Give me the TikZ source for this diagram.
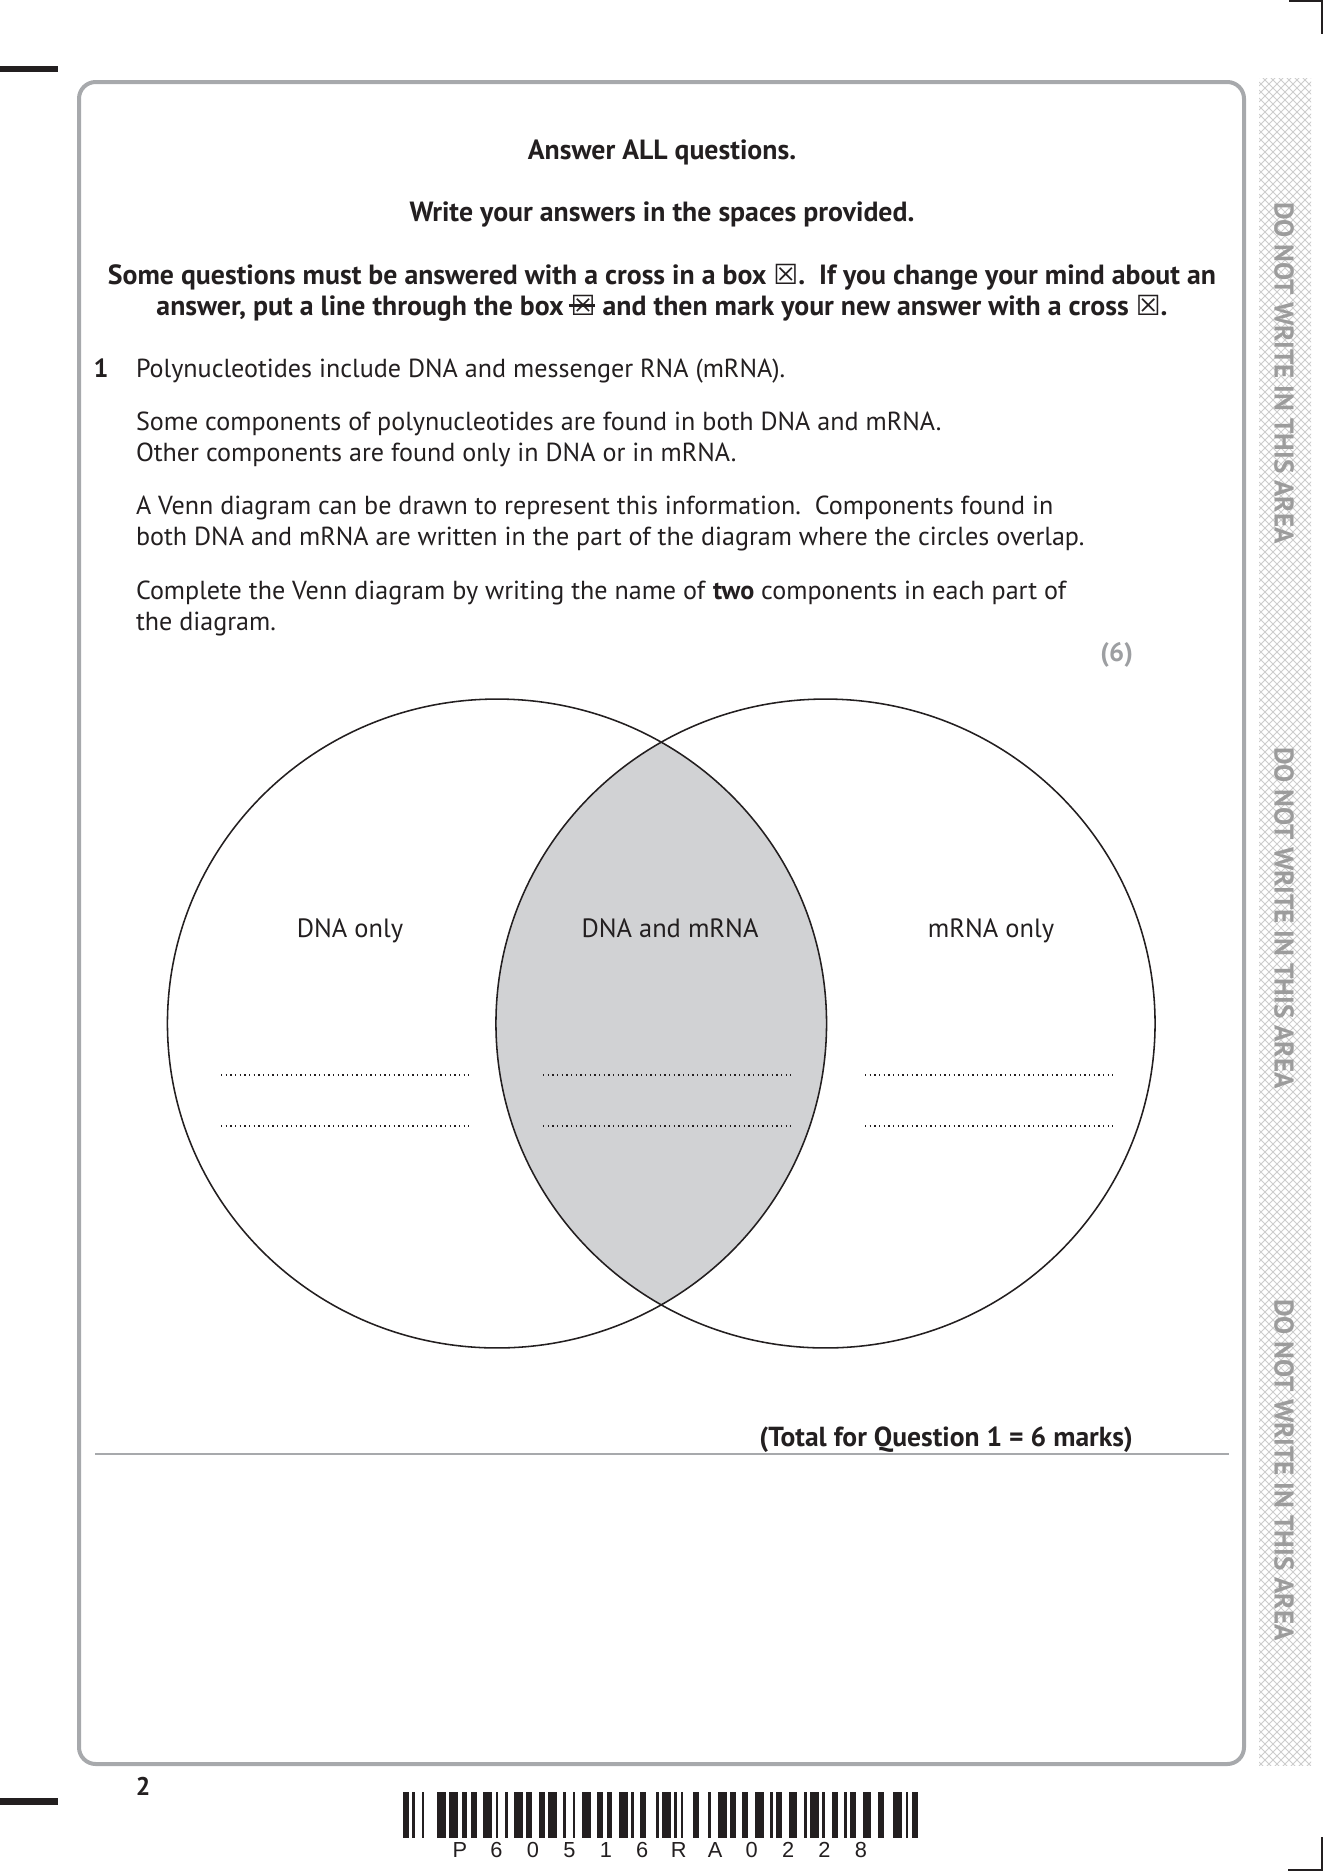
\documentclass[tikz,border=0pt]{standalone}
\usepackage{fontspec}
\setmainfont{PT Sans}
\newfontfamily\headfont{PT Sans}
\newfontfamily\sidefont{PT Sans}
\newfontfamily\symfont{DejaVu Sans}
\newfontfamily\codefont{Liberation Sans}
\definecolor{framegray}{HTML}{A7A9AC}
\definecolor{rulegray}{HTML}{A7A9AC}
\definecolor{hatchgray}{HTML}{CDCDCD}
\definecolor{sidegray}{HTML}{9C9C9C}
\definecolor{lensgray}{HTML}{D1D2D4}
\definecolor{inkblack}{HTML}{231F20}
\definecolor{markgray}{HTML}{9D9FA2}
\newcommand\crossbox{{\symfont\char"2612}}
\newcommand\strikebox{\makebox[0pt][l]{\kern-0.08em\rule[0.3em]{0.95em}{0.09em}}\crossbox}
\newcount\bcpos
\newcount\bcidx
\begin{document}
\begin{tikzpicture}[x=0.45pt,y=-0.45pt,
  every node/.style={inner sep=0pt, outer sep=0pt, text=inkblack},
  head/.style={anchor=base, font=\headfont\bfseries\fontsize{12.5}{14}\selectfont},
  body/.style={anchor=base west, font=\fontsize{11.74}{14}\selectfont},
  region/.style={anchor=base, font=\fontsize{11.9}{14}\selectfont},
  sidetext/.style={rotate=-90, font=\sidefont\bfseries\fontsize{12.2}{14}\selectfont, text=sidegray},
  answerline/.style={line width=0.6pt, dash pattern=on 0.6pt off 1.5pt, inkblack},
  vennline/.style={line width=0.7pt, inkblack},
  hatch/.style={line width=0.4pt, hatchgray}]
\useasboundingbox (0,0) rectangle (1323,1871);

% page furniture
\fill[inkblack] (0,66) rectangle (58,72);
\fill[inkblack] (0,1798) rectangle (58,1805);
\draw[inkblack, line width=0.6pt] (1289,1) -- (1322,1) -- (1322,34);
\draw[inkblack, line width=0.6pt] (1322,1837) -- (1322,1870) -- (1288,1870);

% margin strip
\begin{scope}
  \clip (1259,78) rectangle (1311,1765);
  \foreach \k in {0,...,222} {
    \draw[hatch] (1259,{18+\k*8}) -- ++(60,60);
    \draw[hatch] (1259,{78+\k*8}) -- ++(60,-60);
  }
\end{scope}
\node[sidetext] (side1) at (1284,373) {DO NOT WRITE IN THIS AREA};
\node[sidetext] (side2) at (1284,918) {DO NOT WRITE IN THIS AREA};
\node[sidetext] (side3) at (1284,1470) {DO NOT WRITE IN THIS AREA};

% page frame
\draw[framegray, line width=1.8pt, rounded corners=7.5pt] (79,82) rectangle (1244,1764);

% instructions
\node[head] (h1) at (662,159) {Answer ALL questions.};
\node[head] (h2) at (662,221) {Write your answers in the spaces provided.};
\node[head] (h3) at (662,284) {Some questions must be answered with a cross in a box \crossbox.\ \ If you change your mind about an};
\node[head] (h4) at (662,315) {answer, put a line through the box \strikebox\ and then mark your new answer with a cross \crossbox.};

% question 1
\node[anchor=base, font=\bfseries\fontsize{11.8}{14}\selectfont] (qnum) at (101,377) {1};
\node[body] (p1) at (136,377) {Polynucleotides include DNA and messenger RNA (mRNA).};
\node[body] (p2) at (136,430) {Some components of polynucleotides are found in both DNA and mRNA.};
\node[body] (p3) at (136,461) {Other components are found only in DNA or in mRNA.};
\node[body] (p4) at (136,514) {A Venn diagram can be drawn to represent this information.\ \ Components found in};
\node[body] (p5) at (136,545) {both DNA and mRNA are written in the part of the diagram where the circles overlap.};
\node[body] (p6) at (136,599) {Complete the Venn diagram by writing the name of \textbf{two} components in each part of};
\node[body] (p7) at (136,630) {the diagram.};
\node[anchor=base east, font=\bfseries\fontsize{12}{14}\selectfont, text=markgray] (marks) at (1133,661) {(6)};

% Venn diagram
\coordinate (cL) at (497,1023.5);
\coordinate (cR) at (825.5,1023.5);
\begin{scope}
  \clip (cL) ellipse [x radius=148.3pt, y radius=146pt];
  \fill[lensgray] (cR) ellipse [x radius=148.3pt, y radius=146pt];
\end{scope}
\draw[vennline] (cL) ellipse [x radius=148.3pt, y radius=146pt];
\draw[vennline] (cR) ellipse [x radius=148.3pt, y radius=146pt];
\node[region] (lDNA) at (350,937) {DNA only};
\node[region] (lBoth) at (670,937) {DNA and mRNA};
\node[region] (lRNA) at (991,937) {mRNA only};

\coordinate (a1s) at (221,1075); \coordinate (a1e) at (469,1075);
\coordinate (a2s) at (221,1126); \coordinate (a2e) at (469,1126);
\coordinate (b1s) at (543,1075); \coordinate (b1e) at (791,1075);
\coordinate (b2s) at (543,1126); \coordinate (b2e) at (791,1126);
\coordinate (c1s) at (865,1075); \coordinate (c1e) at (1113,1075);
\coordinate (c2s) at (865,1126); \coordinate (c2e) at (1113,1126);
\foreach \p in {a1,a2,b1,b2,c1,c2} \draw[answerline] (\p s) -- (\p e);

\node[anchor=base east, font=\bfseries\fontsize{12.4}{14}\selectfont] (total) at (1133,1446) {(Total for Question 1 = 6 marks)};
\draw[rulegray, line width=0.9pt] (95,1454) -- (1229,1454);

% page number
\node[anchor=base, font=\bfseries\fontsize{11.5}{13}\selectfont] (pageno) at (143,1795) {2};

% barcode (Code 128)
\global\bcpos=0
\global\bcidx=0
\foreach \w in {2,1,1,2,1,4, 3,1,3,1,2,1, 2,2,3,1,1,2, 1,2,3,1,2,2, 2,1,3,2,1,2,
  1,2,3,2,2,1, 2,2,3,1,1,2, 2,3,1,1,3,1, 1,1,1,3,2,3, 1,2,3,1,2,2, 2,2,3,2,1,1,
  2,2,3,2,1,1, 3,1,1,2,2,2, 1,1,2,2,3,2, 2,3,3,1,1,1,2} {
  \global\advance\bcidx by 1
  \ifodd\bcidx
    \fill[inkblack] ({403+\the\bcpos*3.084},1792) rectangle ({403+(\the\bcpos+\w)*3.084-0.3},1838);
  \fi
  \global\advance\bcpos by \w
}
\foreach \c [count=\i from 0] in {P,6,0,5,1,6,R,A,0,2,2,8}
  \node[anchor=base, font=\codefont\fontsize{9.8}{11}\selectfont] (code\i) at ({460+\i*36.45},1857) {\c};
\end{tikzpicture}
\end{document}
